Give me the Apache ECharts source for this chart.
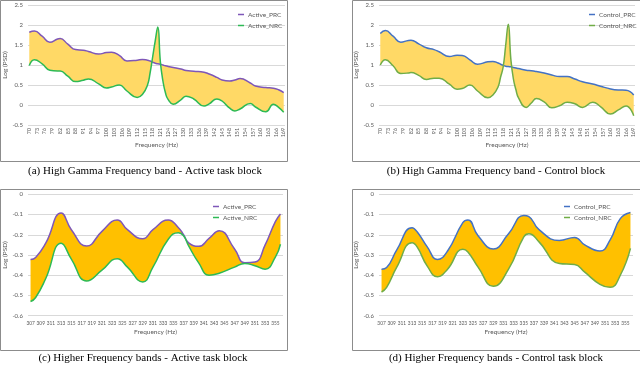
<!DOCTYPE html>
<html><head><meta charset="utf-8">
<script src="https://cdn.jsdelivr.net/npm/echarts@6/dist/echarts.min.js"></script>
<style>html,body{margin:0;padding:0;background:#fff}#c{width:640px;height:366px}</style>
</head><body><div id="c"></div>
<script>
// Categories (1 Hz bins)
const catsTop = []; for (let f = 70; f <= 169; f++) catsTop.push(String(f));
const catsBot = []; for (let f = 307; f <= 356; f++) catsBot.push(String(f));

// (a) High Gamma - Active
const freqA = [70,72,75,78,81,82,85,88,91,93,97,100,102,105,108,112,114,116,117,118,119,120,121,122,123,124,126,129,131,134,138,140,143,145,148,150,152,156,158,162,165,167,169];
const prcA = [1.82,1.85,1.72,1.57,1.65,1.66,1.52,1.385,1.37,1.34,1.275,1.31,1.32,1.24,1.10,1.12,1.14,1.12,1.10,1.07,1.045,1.03,1.02,1.0,0.98,0.965,0.94,0.9,0.865,0.845,0.82,0.775,0.69,0.625,0.6,0.625,0.66,0.55,0.475,0.435,0.42,0.38,0.31];
const nrcA = [0.99,1.13,1.03,0.87,0.85,0.85,0.72,0.585,0.62,0.65,0.53,0.425,0.45,0.5,0.35,0.19,0.26,0.5,0.8,1.2,1.6,1.95,1.08,0.6,0.3,0.14,0.02,0.13,0.22,0.15,-0.025,0.03,0.15,0.1,-0.08,-0.15,-0.1,0.04,-0.05,-0.17,0.02,-0.06,-0.18];

// (b) High Gamma - Control
const freqB = [70,72,75,78,81,82,85,88,91,93,97,100,102,105,108,112,114,116,117,118,119,120,121,122,123,124,127,129,131,134,137,140,143,146,149,153,156,160,163,166,169];
const prcB = [1.79,1.86,1.72,1.57,1.615,1.62,1.53,1.43,1.385,1.33,1.21,1.245,1.24,1.13,1.02,1.08,1.09,1.05,1.02,0.99,0.97,0.96,0.955,0.94,0.925,0.91,0.87,0.855,0.835,0.8,0.75,0.71,0.71,0.65,0.58,0.525,0.47,0.4,0.375,0.37,0.25];
const nrcB = [1.0,1.13,0.98,0.79,0.8,0.81,0.74,0.64,0.67,0.67,0.52,0.395,0.41,0.5,0.35,0.18,0.25,0.45,0.7,0.95,1.5,2.02,1.15,0.65,0.38,0.18,-0.06,0.05,0.16,0.08,-0.07,-0.02,0.07,0.03,-0.06,0.07,-0.04,-0.225,-0.12,-0.025,-0.27];

// (c) Higher bands - Active
const freqC = [307,308,310,313,315,318,321,324,326,329,331,334,336,337,338,340,342,344,347,349,351,353,355,356];
const prcC = [-0.322,-0.312,-0.24,-0.093,-0.175,-0.256,-0.183,-0.127,-0.175,-0.22,-0.175,-0.127,-0.165,-0.2,-0.24,-0.257,-0.218,-0.18,-0.27,-0.338,-0.335,-0.25,-0.135,-0.097];
const nrcC = [-0.53,-0.51,-0.415,-0.242,-0.32,-0.428,-0.375,-0.318,-0.36,-0.433,-0.36,-0.222,-0.19,-0.205,-0.255,-0.34,-0.4,-0.39,-0.36,-0.342,-0.353,-0.37,-0.31,-0.247];

// (d) Higher bands - Control
const freqD = [307,308,310,313,314,316,318,320,323,324,326,329,332,335,336,338,342,345,347,350,352,354,356];
const prcD = [-0.37,-0.362,-0.275,-0.165,-0.185,-0.26,-0.322,-0.28,-0.14,-0.127,-0.205,-0.27,-0.195,-0.105,-0.11,-0.175,-0.228,-0.213,-0.25,-0.28,-0.225,-0.12,-0.09];
const nrcD = [-0.483,-0.46,-0.36,-0.24,-0.26,-0.355,-0.407,-0.37,-0.272,-0.285,-0.36,-0.455,-0.37,-0.21,-0.195,-0.235,-0.342,-0.347,-0.385,-0.445,-0.46,-0.4,-0.267];

const captions = [
  '(a) High Gamma Frequency band - Active task block',
  '(b) High Gamma Frequency band - Control block',
  '(c) Higher Frequency bands - Active task block',
  '(d) Higher Frequency bands - Control task block'
];
const namesActive = ['Active_PRC', 'Active_NRC'];
const namesControl = ['Control_PRC', 'Control_NRC'];

const FONT = 'Lato, "Open Sans", sans-serif';
const LBL = '#595959';

const grids = [
  {left: 28, top: 5, width: 257, height: 120},
  {left: 379, top: 5, width: 256, height: 120},
  {left: 28, top: 194.3, width: 255, height: 121.4},
  {left: 379, top: 194.3, width: 254, height: 121.4}
];

function xAx(i, cats, top) {
  return {
    type: 'category', gridIndex: i, data: cats, boundaryGap: true,
    axisLine: {show: false}, axisTick: {show: false},
    axisLabel: top
      ? {interval: 2, rotate: 90, fontSize: 5.3, color: LBL, margin: 3, fontFamily: FONT}
      : {interval: 1, fontSize: 4.8, color: LBL, margin: 5, fontFamily: FONT},
    name: 'Frequency (Hz)', nameLocation: 'middle', nameGap: top ? 14 : 12.5,
    nameTextStyle: {fontSize: 6.5, color: LBL, fontFamily: FONT}
  };
}
function yAx(i, min, max, interval) {
  return {
    type: 'value', gridIndex: i, min, max, interval,
    axisLine: {show: false}, axisTick: {show: false},
    axisLabel: {fontSize: 6, color: LBL, margin: 5, fontFamily: FONT},
    splitLine: {lineStyle: {color: '#D9D9D9', width: 1}},
    name: 'Log (PSD)', nameLocation: 'middle', nameGap: 19,
    nameTextStyle: {fontSize: 6.5, color: LBL, fontFamily: FONT}
  };
}

function pairs(freq, vals) { return freq.map((f, k) => [String(f), vals[k]]); }

function panelSeries(i, freq, prc, nrc, names, cPrc, cNrc, fill) {
  const diff = prc.map((v, k) => +(v - nrc[k]).toFixed(4));
  const common = {type: 'line', xAxisIndex: i, yAxisIndex: i, smooth: 0.5, symbol: 'none', silent: true};
  return [
    Object.assign({}, common, {name: 'base' + i, data: pairs(freq, nrc), stack: 's' + i, stackStrategy: 'all',
      lineStyle: {opacity: 0}, z: 1}),
    Object.assign({}, common, {name: 'fill' + i, data: pairs(freq, diff), stack: 's' + i, stackStrategy: 'all',
      lineStyle: {opacity: 0}, areaStyle: {color: fill, opacity: 1}, z: 1}),
    Object.assign({}, common, {name: names[0], data: pairs(freq, prc), lineStyle: {color: cPrc, width: 1.5},
      itemStyle: {color: cPrc}, z: 3}),
    Object.assign({}, common, {name: names[1], data: pairs(freq, nrc), lineStyle: {color: cNrc, width: 1.5},
      itemStyle: {color: cNrc}, z: 3})
  ];
}

function legend(left, top, names) {
  return {
    orient: 'vertical', left, top, data: names.map(n => ({name: n, icon: 'rect'})),
    itemWidth: 6, itemHeight: 1.5, itemGap: 4, padding: 0, selectedMode: false,
    textStyle: {fontSize: 6.5, color: LBL, fontFamily: FONT, padding: [0, 0, 0, -1]}
  };
}

const PURPLE = '#7E57B8', GREEN_A = '#2DBA55', BLUE = '#4472C4', GREEN_C = '#70AD47';
const FILL_TOP = '#FFD966', FILL_BOT = '#FFC000';

const series = [].concat(
  panelSeries(0, freqA, prcA, nrcA, namesActive, PURPLE, GREEN_A, FILL_TOP),
  panelSeries(1, freqB, prcB, nrcB, namesControl, BLUE, GREEN_C, FILL_TOP),
  panelSeries(2, freqC, prcC, nrcC, namesActive, PURPLE, GREEN_A, FILL_BOT),
  panelSeries(3, freqD, prcD, nrcD, namesControl, BLUE, GREEN_C, FILL_BOT)
);

const boxStyle = {fill: 'none', stroke: '#8C8C8C', lineWidth: 1};
const capFont = '11px "Liberation Serif", "DejaVu Serif", serif';

const option = {
  animation: false,
  grid: grids,
  xAxis: [xAx(0, catsTop, true), xAx(1, catsTop, true), xAx(2, catsBot, false), xAx(3, catsBot, false)],
  yAxis: [yAx(0, -0.5, 2.5, 0.5), yAx(1, -0.5, 2.5, 0.5), yAx(2, -0.6, 0, 0.1), yAx(3, -0.6, 0, 0.1)],
  legend: [
    legend(238, 11, namesActive),
    legend(589, 11, namesControl),
    legend(213, 203, namesActive),
    legend(564, 203, namesControl)
  ],
  series,
  graphic: [
    {type: 'rect', shape: {x: 0.5, y: 0.5, width: 287, height: 161}, style: boxStyle, silent: true},
    {type: 'rect', shape: {x: 352.5, y: 0.5, width: 300, height: 161}, style: boxStyle, silent: true},
    {type: 'rect', shape: {x: 0.5, y: 189.5, width: 287, height: 161}, style: boxStyle, silent: true},
    {type: 'rect', shape: {x: 352.5, y: 189.5, width: 300, height: 161}, style: boxStyle, silent: true},
    {type: 'text', x: 145, y: 171, style: {text: captions[0], font: capFont, fill: '#000', textAlign: 'center', textVerticalAlign: 'middle'}},
    {type: 'text', x: 496, y: 171, style: {text: captions[1], font: capFont, fill: '#000', textAlign: 'center', textVerticalAlign: 'middle'}},
    {type: 'text', x: 143, y: 358, style: {text: captions[2], font: capFont, fill: '#000', textAlign: 'center', textVerticalAlign: 'middle'}},
    {type: 'text', x: 496, y: 358, style: {text: captions[3], font: capFont, fill: '#000', textAlign: 'center', textVerticalAlign: 'middle'}}
  ]
};

const chart = echarts.init(document.getElementById('c'), null, {renderer: 'canvas'});
chart.setOption(option);
</script>
</body></html>
